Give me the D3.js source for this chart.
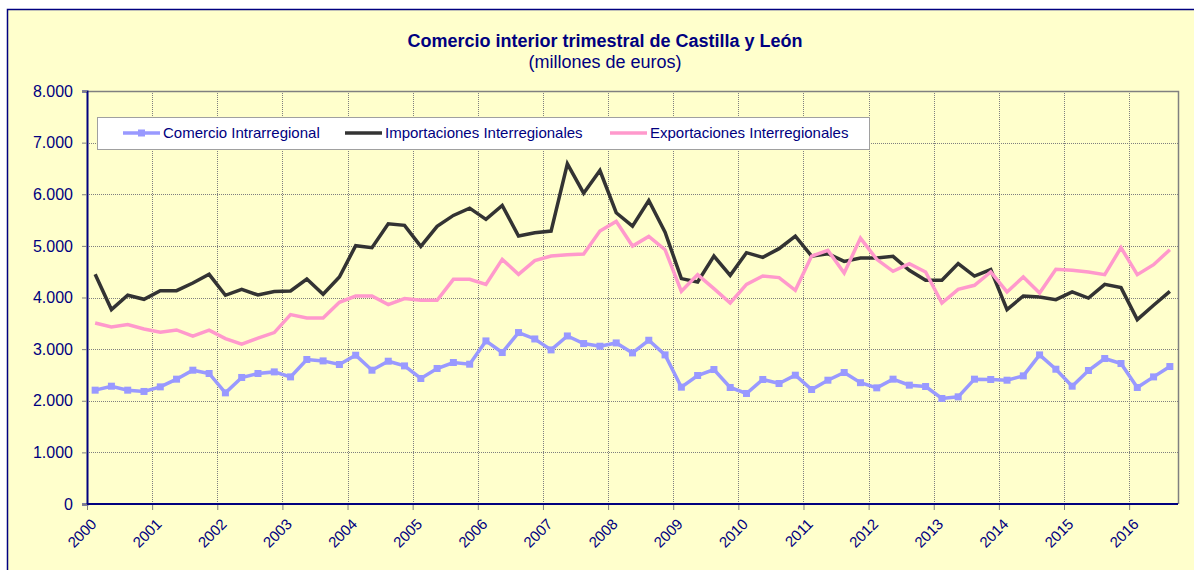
<!DOCTYPE html>
<html>
<head>
<meta charset="utf-8">
<script src="https://cdn.jsdelivr.net/npm/d3@7"></script>
<style>
  body { margin: 0; background: #fff; }
  svg text { font-family: "Liberation Sans", Arial, sans-serif; }
</style>
</head>
<body>
<div id="chart"></div>
<script>
// años del eje y trimestres (2000T1 .. 2016T3)
const years = d3.range(2000, 2017)
const quarters = years.flatMap(y => [1, 2, 3, 4].map(q => `${y}T${q}`)).slice(0, 67)

const yTicks = [0, 1000, 2000, 3000, 4000, 5000, 6000, 7000, 8000]

const intrarregional = [2205, 2282, 2205, 2180, 2269, 2418, 2592, 2528, 2153, 2451,
  2528, 2559, 2462, 2799, 2772, 2702, 2882, 2592, 2766, 2675,
  2431, 2625, 2741, 2708, 3159, 2934, 3321, 3197, 2985, 3255,
  3108, 3056, 3120, 2927, 3172, 2888, 2263, 2489, 2605, 2257,
  2141, 2412, 2334, 2495, 2218, 2398, 2547, 2350, 2250, 2418,
  2302, 2276, 2044, 2076, 2418, 2412, 2398, 2482, 2888, 2611,
  2282, 2586, 2818, 2721, 2257, 2462, 2663]

const importaciones = [4449, 3766, 4043, 3965, 4133, 4133, 4281, 4449, 4043, 4159,
  4048, 4114, 4126, 4358, 4062, 4397, 5004, 4965, 5429, 5397,
  4990, 5377, 5590, 5731, 5513, 5783, 5190, 5255, 5286, 6590,
  6021, 6460, 5642, 5383, 5880, 5267, 4366, 4300, 4803, 4429,
  4868, 4778, 4946, 5190, 4803, 4849, 4700, 4765, 4764, 4797,
  4526, 4333, 4333, 4656, 4416, 4540, 3766, 4029, 4010, 3959,
  4107, 3990, 4255, 4191, 3572, 3849, 4120]

const exportaciones = [3507, 3430, 3476, 3391, 3327, 3371, 3250, 3366, 3205, 3095,
  3211, 3321, 3669, 3604, 3604, 3907, 4029, 4029, 3863, 3979,
  3946, 3946, 4352, 4352, 4255, 4739, 4449, 4714, 4803, 4830,
  4842, 5286, 5474, 4996, 5184, 4926, 4120, 4443, 4172, 3894,
  4255, 4416, 4385, 4139, 4803, 4913, 4474, 5150, 4739, 4507,
  4656, 4494, 3894, 4159, 4236, 4494, 4107, 4397, 4088, 4545,
  4526, 4494, 4443, 4965, 4443, 4636, 4926]

const series = [
  { name: 'Comercio Intrarregional', values: intrarregional, color: '#9999ff', marker: true },
  { name: 'Importaciones Interregionales', values: importaciones, color: '#333333', marker: false },
  { name: 'Exportaciones Interregionales', values: exportaciones, color: '#ff99cc', marker: false },
]

const width = 1194
const height = 570
const navy = '#000080'
const plot = { left: 87, top: 91, right: 1178, bottom: 504 }

const es = d3.formatLocale({ decimal: ',', thousands: '.', grouping: [3], currency: ['', ' €'] })
const fmt = es.format(',d')

const svg = d3.select('#chart').append('svg')
  .attr('width', width)
  .attr('height', height)

// fondo y marco
svg.append('rect')
  .attr('x', 7.5).attr('y', 9.5)
  .attr('width', 1220).attr('height', 620)
  .attr('fill', '#ffffcc')
  .attr('stroke', navy)
  .attr('stroke-width', 1.5)

const x = d3.scaleBand()
  .domain(d3.range(quarters.length))
  .range([plot.left, plot.right])

const y = d3.scaleLinear()
  .domain([0, 8000])
  .range([plot.bottom, plot.top])

const cx = i => x(i) + x.bandwidth() / 2
const yearX = yr => x((yr - 2000) * 4)

// rejilla
const grid = svg.append('g')
  .attr('stroke', '#7f7f7f')
  .attr('stroke-width', 1)
  .attr('stroke-dasharray', '1,1')

grid.selectAll('.hgrid')
  .data(yTicks.filter(d => d > 0))
  .enter().append('line')
  .attr('x1', plot.left).attr('x2', plot.right)
  .attr('y1', d => Math.round(y(d)) + 0.5)
  .attr('y2', d => Math.round(y(d)) + 0.5)

grid.selectAll('.vgrid')
  .data(years.slice(1))
  .enter().append('line')
  .attr('x1', d => Math.round(yearX(d)) + 0.5)
  .attr('x2', d => Math.round(yearX(d)) + 0.5)
  .attr('y1', plot.top).attr('y2', plot.bottom)

// borde derecho y superior del área de trazado
svg.append('path')
  .attr('d', `M${plot.left},${plot.top + 0.5}H${plot.right + 0.5}V${plot.bottom}`)
  .attr('fill', 'none')
  .attr('stroke', '#808080')
  .attr('stroke-width', 1.5)

// eje Y
const yAxis = svg.append('g')
  .attr('transform', `translate(${plot.left},0)`)
  .call(d3.axisLeft(y).tickValues(yTicks).tickFormat(fmt).tickSize(5).tickPadding(9))

yAxis.select('.domain').attr('stroke', navy).attr('stroke-width', 2)
yAxis.selectAll('.tick line').attr('stroke', '#808080')
yAxis.selectAll('text')
  .attr('fill', navy)
  .style('font-size', '16px')

// eje X (categorías trimestrales, etiqueta por año)
const xAxis = svg.append('g')
  .attr('transform', `translate(0,${plot.bottom})`)
  .call(d3.axisBottom(d3.scaleLinear().domain([2000, 2016]).range([yearX(2000), yearX(2016)]))
    .tickValues(years).tickFormat(d3.format('d')).tickSize(6))

xAxis.select('.domain').remove()
xAxis.append('line')
  .attr('x1', plot.left).attr('x2', plot.right)
  .attr('stroke', navy).attr('stroke-width', 2)
xAxis.selectAll('.tick line').attr('stroke', '#808080')
xAxis.selectAll('.tick text')
  .attr('fill', navy)
  .style('font-size', '15px')
  .attr('text-anchor', 'end')
  .attr('dy', null)
  .attr('y', 0)
  .attr('transform', 'translate(10,21) rotate(-45)')

// líneas
const line = d3.line()
  .x((d, i) => cx(i))
  .y(d => y(d))

svg.append('g').selectAll('path')
  .data(series)
  .enter().append('path')
  .attr('d', d => line(d.values))
  .attr('fill', 'none')
  .attr('stroke', d => d.color)
  .attr('stroke-width', 3.5)
  .attr('stroke-linejoin', 'miter')

svg.append('g').selectAll('rect')
  .data(intrarregional)
  .enter().append('rect')
  .attr('x', (d, i) => cx(i) - 3.5)
  .attr('y', d => y(d) - 3.5)
  .attr('width', 7).attr('height', 7)
  .attr('fill', '#9999ff')

// título
svg.append('text')
  .attr('x', 605).attr('y', 47)
  .attr('text-anchor', 'middle')
  .attr('fill', navy)
  .style('font-size', '18px')
  .style('font-weight', 'bold')
  .text('Comercio interior trimestral de Castilla y León')

svg.append('text')
  .attr('x', 605).attr('y', 68)
  .attr('text-anchor', 'middle')
  .attr('fill', navy)
  .style('font-size', '18px')
  .text('(millones de euros)')

// leyenda
const legend = svg.append('g')
legend.append('rect')
  .attr('x', 97.5).attr('y', 117.5)
  .attr('width', 772).attr('height', 32)
  .attr('fill', '#ffffff')
  .attr('stroke', '#a0a0a0')

const legendX = [123, 345, 610]
const item = legend.selectAll('.item')
  .data(series)
  .enter().append('g')
  .attr('transform', (d, i) => `translate(${legendX[i]},133)`)

item.append('line')
  .attr('x1', 0).attr('x2', 37)
  .attr('stroke', d => d.color)
  .attr('stroke-width', 3.5)

item.filter(d => d.marker).append('rect')
  .attr('x', 15).attr('y', -3.5)
  .attr('width', 7).attr('height', 7)
  .attr('fill', d => d.color)

item.append('text')
  .attr('x', 40).attr('dy', '0.35em')
  .attr('fill', navy)
  .style('font-size', '15px')
  .text(d => d.name)
</script>
</body>
</html>
